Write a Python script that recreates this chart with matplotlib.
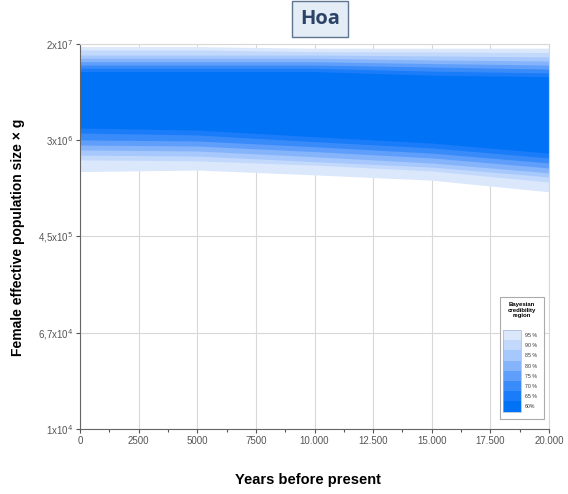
import numpy as np
import matplotlib
matplotlib.use('Agg')
import matplotlib.pyplot as plt
from matplotlib.patches import Rectangle
from matplotlib import rcParams

rcParams.update({'font.family': ['Liberation Sans', 'DejaVu Sans']})

# time points (years before present)
years = [0, 5000, 10000, 15000, 20000]

# credibility levels, outer -> inner
levels = ['95 %', '90 %', '85 %', '80 %', '75 %', '70 %', '65 %', '60%']
colors = ['#dbe8fc', '#c3d9fc', '#a6c8fc', '#86b4fb', '#5f9ffb', '#3a8bfa', '#1a7cf8', '#0072f5']

# upper bounds of each region
upper95 = [1.90e7, 1.90e7, 1.84e7, 1.84e7, 1.84e7]
upper90 = [1.78e7, 1.78e7, 1.72e7, 1.71e7, 1.69e7]
upper85 = [1.61e7, 1.61e7, 1.61e7, 1.58e7, 1.55e7]
upper80 = [1.51e7, 1.51e7, 1.51e7, 1.46e7, 1.43e7]
upper75 = [1.41e7, 1.41e7, 1.41e7, 1.36e7, 1.32e7]
upper70 = [1.32e7, 1.32e7, 1.32e7, 1.27e7, 1.22e7]
upper65 = [1.24e7, 1.24e7, 1.24e7, 1.17e7, 1.13e7]
upper60 = [1.16e7, 1.16e7, 1.16e7, 1.08e7, 1.05e7]

# lower bounds of each region
lower95 = [1.61e6, 1.66e6, 1.51e6, 1.36e6, 1.08e6]
lower90 = [2.03e6, 1.99e6, 1.83e6, 1.63e6, 1.31e6]
lower85 = [2.23e6, 2.19e6, 1.96e6, 1.76e6, 1.45e6]
lower80 = [2.47e6, 2.42e6, 2.16e6, 1.91e6, 1.57e6]
lower75 = [2.72e6, 2.67e6, 2.39e6, 2.11e6, 1.73e6]
lower70 = [3.01e6, 2.95e6, 2.63e6, 2.32e6, 1.91e6]
lower65 = [3.45e6, 3.32e6, 2.91e6, 2.57e6, 2.11e6]
lower60 = [3.81e6, 3.66e6, 3.21e6, 2.83e6, 2.32e6]

uppers = [upper95, upper90, upper85, upper80, upper75, upper70, upper65, upper60]
lowers = [lower95, lower90, lower85, lower80, lower75, lower70, lower65, lower60]

yticks = [1e4, 6.7e4, 4.5e5, 3e6, 2e7]
ytick_labels = [r'1x10$^{4}$', r'6,7x10$^{4}$', r'4,5x10$^{5}$', r'3x10$^{6}$', r'2x10$^{7}$']
xticks = [0, 2500, 5000, 7500, 10000, 12500, 15000, 17500, 20000]
xtick_labels = ['0', '2500', '5000', '7500', '10.000', '12.500', '15.000', '17.500', '20.000']

fig = plt.figure(figsize=(5.68, 4.94), dpi=100)
W, H = 568., 494.
ax = fig.add_axes([80/W, 1-429/H, 469/W, 385/H])

for up, lo, c in zip(uppers, lowers, colors):
    ax.fill_between(years, lo, up, color=c, linewidth=0, zorder=2)

ax.set_yscale('log')
ax.set_xlim(0, 20000)
ax.set_ylim(1e4, 2e7)
ax.set_yticks(yticks)
ax.set_yticklabels(ytick_labels, fontsize=7, color='#555555')
ax.yaxis.set_minor_locator(matplotlib.ticker.NullLocator())
ax.set_xticks(xticks)
ax.set_xticklabels(xtick_labels, fontsize=7, color='#555555')
ax.set_xticks(np.arange(1250, 20000, 2500), minor=True)
ax.tick_params(axis='both', which='major', length=3, width=0.8, color='#555555', pad=2)
ax.tick_params(axis='x', which='minor', length=2, width=0.8, color='#555555')
ax.grid(True, which='major', color='#d8d8d8', linewidth=0.8, zorder=0)
ax.set_axisbelow(True)
for s in ['top', 'right']:
    ax.spines[s].set_color('#d8d8d8')
for s in ['left', 'bottom']:
    ax.spines[s].set_color('#666666')

fig.text(18/W, 1-237/H, 'Female effective population size \u00d7 g', rotation=90,
         ha='center', va='center', fontsize=10, fontweight='bold')
fig.text(308/W, 1-480/H, 'Years before present', ha='center', va='center',
         fontsize=10.5, fontweight='bold')

# title box
fig.text(320/W, 1-19/H, 'Hoa', ha='center', va='center', fontsize=14.5, fontweight='bold',
         color='#2b4466', family=['Open Sans', 'DejaVu Sans'],
         bbox=dict(boxstyle='square,pad=0.38', facecolor='#e4ecf6', edgecolor='#5f7590', linewidth=1))

# legend panel
lg = fig.add_axes([499/W, 1-420/H, 45/W, 124/H])
lg.set_xlim(0, 45)
lg.set_ylim(124, 0)
lg.axis('off')
lg.add_patch(Rectangle((0.5, 0.5), 44, 122.5, facecolor='white', edgecolor='#aaaaaa',
                       linewidth=0.8, clip_on=False))
lg.text(22.5, 14, 'Bayesian\ncredibility\nregion', ha='center', va='center', fontsize=4.3,
        fontweight='bold', linespacing=1.1)
for i, (lab, c) in enumerate(zip(levels, colors)):
    y0 = 34 + i * 10.2
    lg.add_patch(Rectangle((3.5, y0), 18, 10.2, facecolor=c, edgecolor='none'))
    lg.text(26, y0 + 5.5, lab, ha='left', va='center', fontsize=3.8, color='#333333')
lg.add_patch(Rectangle((3.5, 34), 18, 81.6, facecolor='none', edgecolor='#9fb6d8', linewidth=0.5))

fig.savefig('out.png', dpi=100)
